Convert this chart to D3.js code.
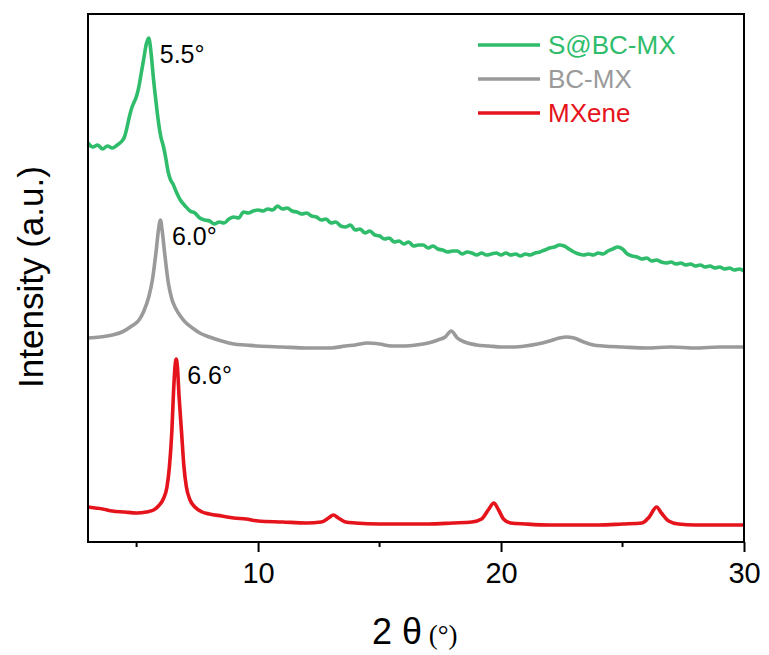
<!DOCTYPE html>
<html>
<head>
<meta charset="utf-8">
<script src="https://cdn.jsdelivr.net/npm/d3@7"></script>
<style>
  body { margin: 0; background: #fff; }
  text { font-family: "Liberation Sans", Arial, sans-serif; }
</style>
</head>
<body>
<div id="chart"></div>
<script>
/*Data: [2theta, intensity (a.u.)]*/
var sbcmx = [
  [3.0,399],[3.2,395],[3.4,397],[3.6,393],[3.8,396],[4.0,394],[4.2,397],[4.4,401],[4.5,405],[4.6,414],
  [4.7,425],[4.8,434],[4.9,440],[5.0,446],[5.1,456],[5.2,470],[5.3,484],[5.4,498],[5.5,504],[5.6,488],
  [5.7,462],[5.8,440],[5.9,420],[6.0,405],[6.1,396],[6.2,384],[6.3,370],[6.4,362],[6.5,358],[6.6,352],
  [6.8,342],[7.0,336],[7.2,331],[7.4,329],[7.6,324],[7.8,322],[8.0,321],[8.2,318],[8.4,320],[8.6,319],
  [8.8,323],[9.0,325],[9.2,324],[9.4,330],[9.6,329],[9.8,331],[10.0,332],[10.2,331],[10.4,333],[10.6,332],
  [10.8,336],[11.0,333],[11.2,334],[11.4,331],[11.6,330],[11.8,328],[12.0,329],[12.2,326],[12.4,325],[12.6,322],
  [12.8,323],[13.0,319],[13.2,320],[13.4,316],[13.6,315],[13.8,317],[14.0,312],[14.2,313],[14.4,309],[14.6,311],
  [14.8,307],[15.0,306],[15.2,303],[15.4,304],[15.6,300],[15.8,301],[16.0,298],[16.2,300],[16.4,296],[16.6,297],
  [16.8,297],[17.0,294],[17.2,296],[17.4,293],[17.6,292],[17.8,290],[18.0,291],[18.2,291],[18.4,288],[18.6,290],
  [18.8,289],[19.0,287],[19.2,289],[19.4,287],[19.6,288],[19.8,289],[20.0,287],[20.2,289],[20.4,287],[20.6,288],
  [20.8,286],[21.0,288],[21.2,287],[21.4,289],[21.6,290],[21.8,292],[22.0,294],[22.2,295],[22.4,297],[22.6,296],
  [22.8,293],[23.0,290],[23.2,288],[23.4,287],[23.6,288],[23.8,287],[24.0,289],[24.2,288],[24.4,291],[24.6,293],
  [24.8,295],[25.0,293],[25.2,288],[25.4,286],[25.6,285],[25.8,283],[26.0,284],[26.2,281],[26.4,282],[26.6,280],
  [26.8,279],[27.0,280],[27.2,278],[27.4,279],[27.6,277],[27.8,278],[28.0,276],[28.2,277],[28.4,275],[28.6,276],
  [28.8,274],[29.0,275],[29.2,273],[29.4,274],[29.6,272],[29.8,273],[30.0,271]
];

var bcmx = [
  [3.0,204],[3.5,205],[4.0,207],[4.4,210],[4.8,216],[5.1,222],[5.3,231],[5.5,245],[5.65,262],[5.8,290],
  [5.9,312],[5.98,322],[6.05,312],[6.15,290],[6.3,260],[6.45,243],[6.6,234],[6.8,226],[7.0,220],[7.3,214],
  [7.6,209],[8.0,205],[8.5,201],[9.0,198],[9.5,197],[10.0,196],[11.0,195],[12.0,194],[13.0,194],[13.6,196],
  [14.0,197],[14.5,199],[15.0,198],[15.5,196],[16.0,196],[16.5,197],[17.0,199],[17.4,202],[17.7,205],[17.95,211],
  [18.2,204],[18.5,200],[19.0,197],[19.5,196],[20.0,195],[20.5,195],[21.0,196],[21.5,198],[22.0,201],[22.4,204],
  [22.7,205],[23.0,204],[23.4,200],[23.8,197],[24.2,196],[25.0,195],[26.0,194],[27.0,195],[28.0,194],[29.0,195],
  [30.0,195]
];

var mxene = [
  [3.0,35],[3.3,34],[3.6,33],[4.0,31],[4.5,30],[5.0,29],[5.4,30],[5.7,32],[5.9,36],[6.1,43],
  [6.25,55],[6.35,75],[6.45,110],[6.52,150],[6.58,175],[6.63,183],[6.68,175],[6.75,145],[6.85,110],[6.95,75],
  [7.05,55],[7.2,42],[7.4,35],[7.7,30],[8.0,28],[8.5,26],[9.0,24],[9.5,23],[10.0,21],[11.0,20],
  [12.0,19],[12.6,20],[12.9,24],[13.1,27],[13.3,24],[13.6,20],[14.0,19],[15.0,18],[16.0,18],[17.0,18],
  [18.0,19],[18.8,20],[19.2,23],[19.5,33],[19.7,39],[19.9,32],[20.1,23],[20.4,19],[21.0,18],[22.0,17],
  [23.0,17],[24.0,17],[25.0,18],[25.8,19],[26.1,25],[26.4,35],[26.6,29],[26.9,21],[27.3,18],[28.0,17],
  [29.0,17],[30.0,17]
];

var names = ["S@BC-MX", "BC-MX", "MXene"];
var colors = ["#2fbd6b", "#9a9a9a", "#e5131b"];
var peakTheta = [5.5, 6.0, 6.63];
var peakLabels = ["5.5\u00b0", "6.0\u00b0", "6.6\u00b0"];
var majorTicks = [10, 20, 30];
var minorTicks = [5, 15, 25];

/*SVG Size*/
var width = 769;
var height = 655;
var m_left = 88, m_right = 744, m_top = 14, m_bottom = 542;

var svg = d3.select("#chart").append("svg")
            .attr("width", width)
            .attr("height", height);

var x = d3.scaleLinear().domain([3, 30]).range([m_left, m_right]);
var y = d3.scaleLinear().domain([0, 528]).range([m_bottom, m_top]);

/*Curves*/
var line = d3.line()
             .curve(d3.curveMonotoneX)
             .x(function(d){ return x(d[0]); })
             .y(function(d){ return y(d[1]); });

var series = [sbcmx, bcmx, mxene];
svg.append("g").selectAll("path")
   .data(series)
   .enter().append("path")
   .attr("d", line)
   .attr("fill", "none")
   .attr("stroke", function(d, i){ return colors[i]; })
   .attr("stroke-width", 3.6)
   .attr("stroke-linejoin", "round");

/*Peak labels*/
series.forEach(function(s, i){
  var peak = d3.max(s, function(d){ return d[1]; });
  svg.append("text")
     .attr("x", x(peakTheta[i]) + 11)
     .attr("y", y(peak) + 25)
     .attr("font-size", 25)
     .attr("fill", "#000")
     .text(peakLabels[i]);
});

/*Axes*/
var xAxis = svg.append("g")
               .attr("transform", "translate(0," + m_bottom + ")")
               .call(d3.axisBottom(x).tickValues(majorTicks).tickSize(10).tickSizeOuter(0).tickPadding(10).tickFormat(d3.format("d")));
xAxis.select(".domain").remove();
xAxis.selectAll("line").attr("stroke", "#000").attr("stroke-width", 2);
xAxis.selectAll("text").attr("font-size", 29).attr("fill", "#000")
     .style("font-family", "'Liberation Sans', Arial, sans-serif");

svg.append("g")
   .attr("transform", "translate(0," + m_bottom + ")")
   .selectAll("line")
   .data(minorTicks)
   .enter().append("line")
   .attr("x1", function(d){ return x(d); })
   .attr("x2", function(d){ return x(d); })
   .attr("y1", 0).attr("y2", 5)
   .attr("stroke", "#000").attr("stroke-width", 2);

/*Frame*/
svg.append("rect")
   .attr("x", m_left).attr("y", m_top)
   .attr("width", m_right - m_left).attr("height", m_bottom - m_top)
   .attr("fill", "none")
   .attr("stroke", "#000")
   .attr("stroke-width", 2);

/*Titles*/
svg.append("text")
   .attr("transform", "translate(43,277) rotate(-90)")
   .attr("text-anchor", "middle")
   .attr("font-size", 35)
   .attr("fill", "#000")
   .text("Intensity (a.u.)");

var xt = svg.append("text")
            .attr("x", 372)
            .attr("y", 644)
            .attr("fill", "#000");
xt.append("tspan").attr("font-size", 36).text("2 \u03b8");
xt.append("tspan").attr("font-size", 27)
  .style("font-family", "'Liberation Serif', 'Times New Roman', serif")
  .text(" (\u00b0)");

/*Legend*/
var legend = svg.append("g");
names.forEach(function(n, i){
  var ly = 45 + i * 34;
  legend.append("line")
        .attr("x1", 478).attr("x2", 540)
        .attr("y1", ly).attr("y2", ly)
        .attr("stroke", colors[i])
        .attr("stroke-width", 3.6);
  legend.append("text")
        .attr("x", 548).attr("y", ly + 9)
        .attr("font-size", 26)
        .attr("fill", colors[i])
        .text(n);
});
</script>
</body>
</html>
